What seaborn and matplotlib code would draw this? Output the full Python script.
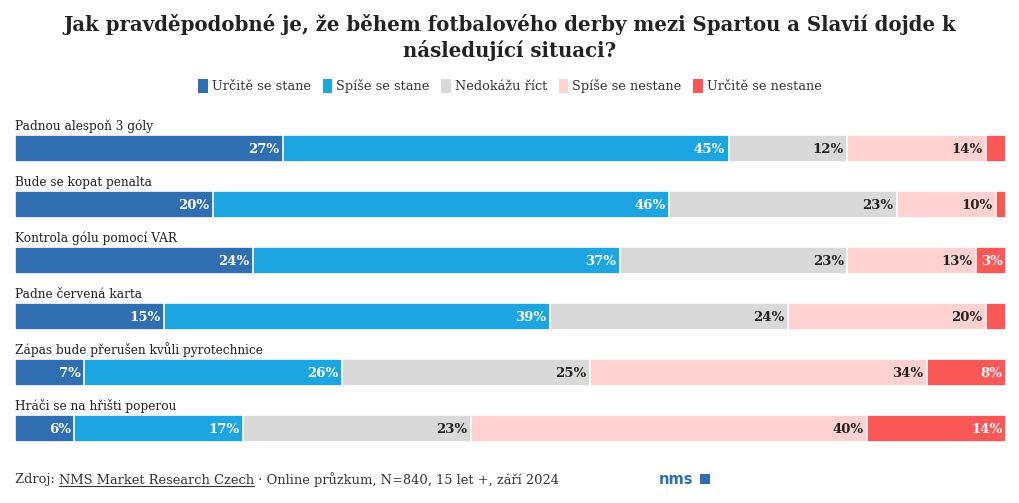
import matplotlib
matplotlib.use("Agg")
import matplotlib.pyplot as plt
import pandas as pd
import seaborn as sns
from matplotlib.patches import Patch, Rectangle, FancyBboxPatch
from matplotlib.lines import Line2D


#data
#----------------------------------
situations = [
    "Padnou alespoň 3 góly",
    "Bude se kopat penalta",
    "Kontrola gólu pomocí VAR",
    "Padne červená karta",
    "Zápas bude přerušen kvůli pyrotechnice",
    "Hráči se na hřišti poperou",
]
answers = ["Určitě se stane", "Spíše se stane", "Nedokážu říct", "Spíše se nestane", "Určitě se nestane"]

urcite_stane = [27, 20, 24, 15, 7, 6]
spise_stane = [45, 46, 37, 39, 26, 17]
nevim = [12, 23, 23, 24, 25, 23]
spise_nestane = [14, 10, 13, 20, 34, 40]
urcite_nestane = [2, 1, 3, 2, 8, 14]

colors = ["#2F6FB1", "#1DA5E2", "#D9D9D9", "#FFD1D1", "#FA5757"]
label_colors = ["white", "white", "#222222", "#222222", "white"]

title = "Jak pravděpodobné je, že během fotbalového derby mezi Spartou a Slavií dojde k\nnásledující situaci?"

sns.set_theme(style="white")
plt.rcParams["font.family"] = ["DejaVu Serif"]

#long table with cumulative ends of each segment
#------------------------------------------------
series = [urcite_stane, spise_stane, nevim, spise_nestane, urcite_nestane]
rows = []
for i, sit in enumerate(situations):
    cum = 0
    for j, ans in enumerate(answers):
        val = series[j][i]
        cum += val
        rows.append({"situace": sit, "odpoved": ans, "value": val, "end": cum})
df = pd.DataFrame(rows)

fig = plt.figure(figsize=(10.2, 5.03), dpi=100)
ax = fig.add_axes([15 / 1020, 1 - 456.5 / 503, 991 / 1020, 336 / 503])

# draw from the longest cumulative bar down so shorter ones sit on top
for j in reversed(range(len(answers))):
    sub = df[df["odpoved"] == answers[j]]
    sns.barplot(data=sub, x="end", y="situace", orient="h", order=situations,
                color=colors[j], width=0.48, edgecolor="white", linewidth=1.2,
                saturation=1, ax=ax)

ax.set_xlim(0, 100)
ax.set_ylim(5.5, -0.5)
ax.set_xlabel("")
ax.set_ylabel("")
ax.set_xticks([])
ax.set_yticks([])
for s in ax.spines.values():
    s.set_visible(False)

#segment labels and row titles
for i, sit in enumerate(situations):
    ax.text(0, i - 0.27, sit, ha="left", va="bottom", fontsize=8.7, color="#222222")
    for j in range(len(answers)):
        r = df[(df["situace"] == sit) & (df["odpoved"] == answers[j])].iloc[0]
        if r["value"] >= 3:
            ax.text(r["end"] - 0.35, i + 0.02, f"{r['value']}%", ha="right", va="center",
                    fontsize=9.5, fontweight="bold", color=label_colors[j])

fig.text(0.5, 1 - 37.5 / 503, title, ha="center", va="center", fontsize=14.2,
         fontweight="bold", color="#222222", linespacing=1.3)

handles = [Patch(facecolor=c, edgecolor="none") for c in colors]
fig.legend(handles, answers, loc="center", bbox_to_anchor=(0.5, 1 - 86 / 503), ncol=5,
           frameon=False, fontsize=9.3, handlelength=0.75, handleheight=1.3,
           handletextpad=0.3, columnspacing=0.9, labelcolor="#333333")

#footer with underlined source name
y_foot = 1 - 480 / 503
fs_foot = 9.4
t1 = fig.text(15 / 1020, y_foot, "Zdroj: ", ha="left", va="center", fontsize=fs_foot, color="#333333")
fig.canvas.draw()
rend = fig.canvas.get_renderer()
bb1 = t1.get_window_extent(rend)
x2 = bb1.x1 / fig.bbox.width
t2 = fig.text(x2, y_foot, "NMS Market Research Czech", ha="left", va="center", fontsize=fs_foot, color="#333333")
bb2 = t2.get_window_extent(rend)
x3 = bb2.x1 / fig.bbox.width
fig.add_artist(Line2D([x2, x3], [bb2.y0 / fig.bbox.height + 0.001] * 2, transform=fig.transFigure,
                      color="#333333", linewidth=0.8))
fig.text(x3, y_foot, " · Online průzkum, N=840, 15 let +, září 2024", ha="left", va="center",
         fontsize=fs_foot, color="#333333")

fig.text(659 / 1020, y_foot, "nms", ha="left", va="center", fontsize=10.5, fontweight="bold",
         color="#2F6FB1", family="DejaVu Sans")
fig.add_artist(Rectangle((700 / 1020, 1 - 484 / 503), 10 / 1020, 10 / 503, transform=fig.transFigure,
                         facecolor="#2F6FB1", edgecolor="none"))

fig.savefig("out.png", dpi=100)
